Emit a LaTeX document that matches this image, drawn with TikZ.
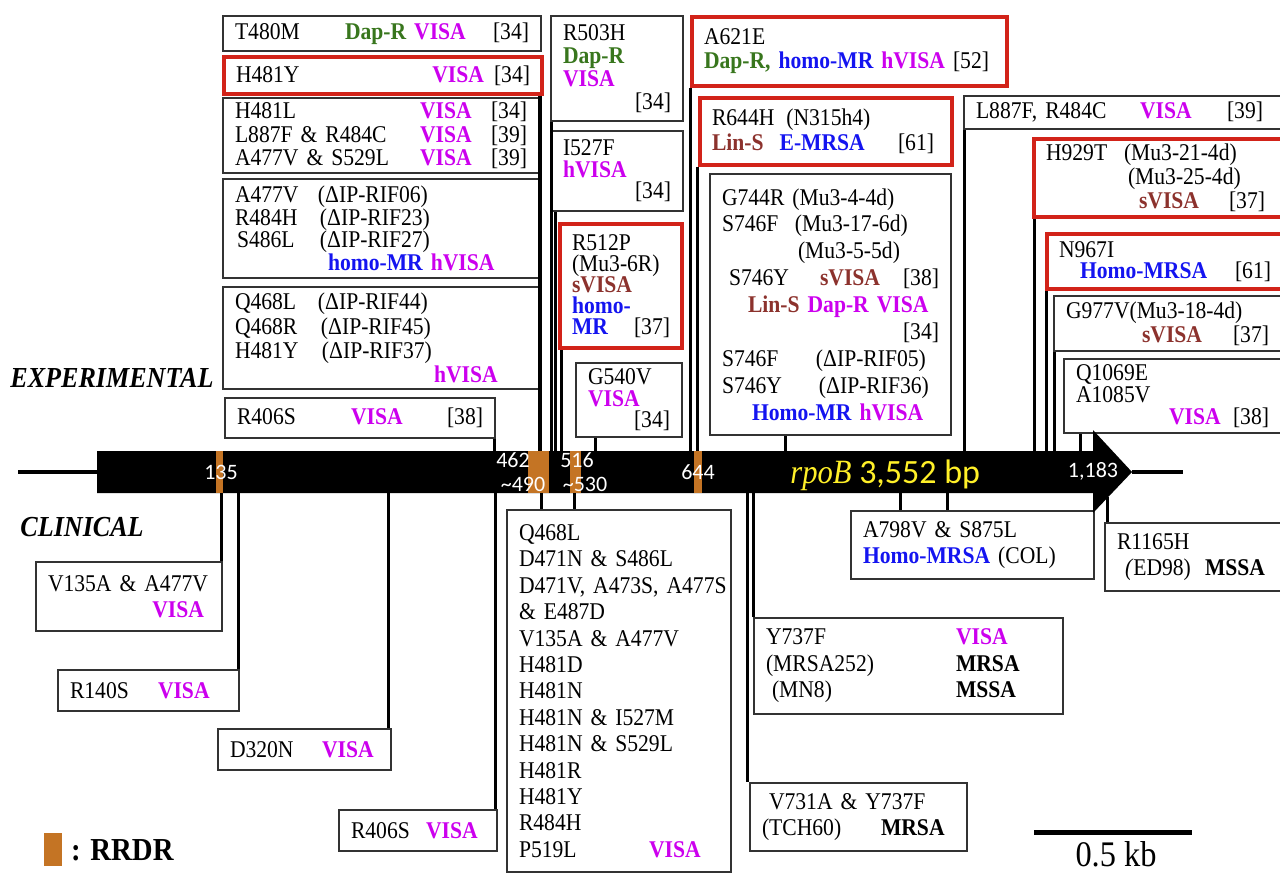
\documentclass[tikz,border=0pt]{standalone}
\usepackage{fontspec}
\setmainfont{Liberation Serif}[FakeStretch=0.9]
\newfontfamily\barfont{Carlito}
\usetikzlibrary{positioning}
\definecolor{visac}{RGB}{204,0,238}
\definecolor{daprc}{RGB}{56,118,29}
\definecolor{homoc}{RGB}{20,20,240}
\definecolor{svisac}{RGB}{140,50,45}
\definecolor{boxred}{RGB}{210,35,25}
\definecolor{rrdr}{RGB}{196,116,36}
\definecolor{geneyellow}{RGB}{255,240,40}
\newcommand{\visa}[1]{{\bfseries\color{visac}#1}}
\newcommand{\dapr}[1]{{\bfseries\color{daprc}#1}}
\newcommand{\homo}[1]{{\bfseries\color{homoc}#1}}
\newcommand{\svisa}[1]{{\bfseries\color{svisac}#1}}
\newcommand{\bk}[1]{{\bfseries #1}}
\begin{document}
\begin{tikzpicture}[x=0.5pt, y=-0.5pt,
  font=\fontsize{12}{13}\selectfont,
  box/.style={draw=black!80, line width=1pt, anchor=north west, inner xsep=6pt,
              inner ysep=0pt, align=left},
  hit/.style={box, draw=boxred, line width=2pt},
  lead/.style={font=\fontsize{12}{#1}\selectfont},
  link/.style={line width=1.5pt},
  num/.style={text=white, inner sep=0pt, font=\barfont\fontsize{11}{11}\selectfont},
  tag/.style={inner sep=0pt, font=\fontsize{14.5}{14.5}\selectfont\bfseries\itshape},
]
\useasboundingbox (0,0) rectangle (1280,873);

% experimental
\node[box, text width=147pt, minimum height=17.5pt] (t480m) at (222,15)
  {\makebox[55pt][l]{T480M}\dapr{Dap-R} \visa{VISA}\hfill[34]};
\node[hit, text width=147pt, minimum height=18.5pt] (h481y) at (222,55)
  {H481Y\hfill\visa{VISA}\hspace{5pt}[34]};
\node[box, lead=11.75, text width=146pt, minimum height=37.5pt] (h481l) at (222,97)
  {\makebox[92.5pt][l]{H481L}\visa{VISA}\hfill[34]\\
   \makebox[92.5pt][l]{L887F \& R484C}\visa{VISA}\hfill[39]\\
   \makebox[92.5pt][l]{A477V \& S529L}\visa{VISA}\hfill[39]};
\node[box, lead=11.35, text width=146pt, minimum height=49.5pt] (rif06) at (222,178)
  {\makebox[41.5pt][l]{A477V}(ΔIP-RIF06)\\
   \makebox[42.5pt][l]{R484H}(ΔIP-RIF23)\\
   \hspace*{1pt}\makebox[41.5pt][l]{S486L}(ΔIP-RIF27)\\
   \hspace*{46.5pt}\homo{homo-MR} \visa{hVISA}};
\node[box, lead=12.15, text width=146pt, minimum height=51pt] (rif44) at (222,286)
  {\makebox[41.5pt][l]{Q468L}(ΔIP-RIF44)\\
   \makebox[43pt][l]{Q468R}(ΔIP-RIF45)\\
   \makebox[43.5pt][l]{H481Y}(ΔIP-RIF37)\\
   \hspace*{99.5pt}\visa{hVISA}};
\node[box, text width=123pt, minimum height=20pt] (r406s) at (224,397)
  {\makebox[57pt][l]{R406S}\visa{VISA}\hfill[38]};

\node[box, lead=11.6, text width=54pt, minimum height=52.5pt] (r503h) at (550,15)
  {R503H\\ \dapr{Dap-R}\\ \visa{VISA}\\ \hspace*{\fill}[34]};
\node[box, lead=10.8, text width=54pt, minimum height=40pt] (i527f) at (550,130)
  {I527F\\ \visa{hVISA}\\ \hspace*{\fill}[34]};
\node[hit, lead=10.5, text width=49pt, minimum height=62pt] (r512p) at (558,222)
  {R512P\\ (Mu3-6R)\\ \svisa{sVISA}\\ \homo{homo-}\\ \homo{MR}\hfill[37]};
\node[box, lead=10.8, text width=41pt, minimum height=37pt] (g540v) at (575,362)
  {G540V\\ \visa{VISA}\\ \hspace*{\fill}[34]};

\node[hit, lead=12, text width=145.5pt, minimum height=34.5pt] (a621e) at (690,15)
  {A621E\\ \mbox{\dapr{Dap-R,} \homo{homo-MR} \visa{hVISA}\hspace{4pt}[52]}};
\node[hit, lead=12.5, text width=114pt, minimum height=33.5pt] (r644h) at (698,96)
  {R644H\hspace{6pt}(N315h4)\\
   \svisa{Lin-S}\hspace{8pt}\homo{E-MRSA}\hfill[61]\kern3pt};
\node[box, lead=13.45, text width=108.5pt, minimum height=130.5pt] (g744r) at (709,173)
  {G744R (Mu3-4-4d)\\
   \makebox[36.5pt][l]{S746F}(Mu3-17-6d)\\
   \hspace*{38pt}(Mu3-5-5d)\\
   \hspace*{3.5pt}\makebox[45.5pt][l]{S746Y}\svisa{sVISA}\hfill[38]\\
   \hspace*{13pt}\svisa{Lin-S} \visa{Dap-R VISA}\\
   \hspace*{\fill}[34]\\
   \makebox[47pt][l]{S746F}(ΔIP-RIF05)\\
   \makebox[48.5pt][l]{S746Y}(ΔIP-RIF36)\\
   \hspace*{15pt}\homo{Homo-MR} \visa{hVISA}};

\node[box, text width=156.5pt, minimum height=16.5pt] (l887f) at (963,95)
  {\makebox[82pt][l]{L887F, R484C}\makebox[43.5pt][l]{\visa{VISA}}[39]};
\node[hit, lead=9.5, text width=122pt, minimum height=39pt] (h929t) at (1032,137)
  {\makebox[39pt][l]{H929T}(Mu3-21-4d)\\
   \hspace*{41pt}(Mu3-25-4d)\\
   \hspace*{46.5pt}\makebox[45pt][l]{\svisa{sVISA}}[37]};
\node[hit, lead=10.2, text width=115.5pt, minimum height=27.5pt] (n967i) at (1045,232)
  {N967I\\ \hspace*{10.5pt}\makebox[77.5pt][l]{\homo{Homo-MRSA}}[61]};
\node[box, lead=10, text width=111.5pt, minimum height=27.5pt] (g977v) at (1053,295)
  {G977V(Mu3-18-4d)\\ \hspace*{38pt}\makebox[45.5pt][l]{\svisa{sVISA}}[37]};
\node[box, lead=8.5, text width=106.5pt, minimum height=37pt] (q1069e) at (1063,358)
  {Q1069E\\ A1085V\\[1.5pt] \hspace*{46.5pt}\makebox[32pt][l]{\visa{VISA}}[38]};

% clinical
\node[box, lead=13, text width=81pt, minimum height=34.5pt] (v135a) at (35,561)
  {\mbox{V135A \& A477V}\\ \hspace*{\fill}\visa{VISA}\kern3pt};
\node[box, text width=78.5pt, minimum height=20.5pt] (r140s) at (57,669)
  {\makebox[44pt][l]{R140S}\visa{VISA}};
\node[box, text width=74.5pt, minimum height=20.5pt] (d320n) at (217,728)
  {\makebox[46pt][l]{D320N}\visa{VISA}};
\node[box, text width=67pt, minimum height=20.5pt] (r406sc) at (338,809)
  {\makebox[37.5pt][l]{R406S}\visa{VISA}};
\node[box, lead=13.2, text width=100pt, minimum height=181pt] (q468l) at (506,509)
  {Q468L\\ D471N \& S486L\\ \mbox{D471V, A473S, A477S}\\ \& E487D\\ V135A \& A477V\\
   H481D\\ H481N\\ H481N \& I527M\\ H481N \& S529L\\ H481R\\ H481Y\\ R484H\\
   \makebox[65pt][l]{P519L}\visa{VISA}};
\node[box, lead=13.25, text width=142.5pt, minimum height=48pt] (y737f) at (753,617)
  {\makebox[95pt][l]{Y737F}\visa{VISA}\\
   \makebox[95pt][l]{(MRSA252)}\bk{MRSA}\\
   \makebox[95pt][l]{\hspace*{3pt}(MN8)}\bk{MSSA}};
\node[box, lead=13, text width=96.5pt, minimum height=34pt] (v731a) at (749,782)
  {\hspace*{3.5pt}V731A \& Y737F\\ \makebox[59.5pt][l]{(TCH60)}\bk{MRSA}};
\node[box, lead=13, text width=109.5pt, minimum height=34pt] (a798v) at (850,510)
  {A798V \& S875L\\ \homo{Homo-MRSA} (COL)};
\node[box, lead=13, text width=86pt, minimum height=34pt] (r1165h) at (1104,522)
  {R1165H\\ \hspace*{4pt}\makebox[40pt][l]{\textit{(}ED98)}\bk{MSSA}};

% gene
\draw[line width=2pt] (18,472) -- (97,472);
\draw[line width=2pt] (1132,472) -- (1183,472);
\fill (97,451) -- (1093,451) -- (1093,430) -- (1132,472) -- (1093,513)
  -- (1093,493) -- (97,493) -- cycle;
\foreach \a/\b in {216/223,528/549,570/581,694/702}
  \fill[rrdr] (\a,451) rectangle (\b,493);

\coordinate (e406) at (494,451);
\coordinate (e481) at (540,451);
\coordinate (e503) at (551,451);
\coordinate (e527) at (555,451);
\coordinate (e512) at (561,451);
\coordinate (e540) at (595,451);
\coordinate (e621) at (690,451);
\coordinate (e644) at (697,451);
\coordinate (e744) at (785,451);
\coordinate (e887) at (964,451);
\coordinate (e929) at (1034,451);
\coordinate (e967) at (1046,451);
\coordinate (e977) at (1054,451);
\coordinate (e1069) at (1080,451);

\draw[link] (e406 |- r406s.south) -- (e406);
\draw[link, line width=2pt] (e481 |- h481y.south) -- (e481);
\draw[link] (e503 |- r503h.south) -- (e503);
\draw[link] (e527 |- i527f.south) -- (e527);
\draw[link] (e512 |- r512p.south) -- (e512);
\draw[link] (e540 |- g540v.south) -- (e540);
\draw[link] (e621 |- a621e.south) -- (e621);
\draw[link] (e644 |- r644h.south) -- (e644);
\draw[link] (e744 |- g744r.south) -- (e744);
\draw[link] (e887 |- l887f.south) -- (e887);
\draw[link] (e929 |- h929t.south) -- (e929);
\draw[link] (e967 |- n967i.south) -- (e967);
\draw[link] (e977 |- g977v.south) -- (e977);
\draw[link] (e1069 |- q1069e.south) -- (e1069);

\coordinate (c135) at (221,493);
\coordinate (c140) at (238,493);
\coordinate (c320) at (388,493);
\coordinate (c406) at (495,493);
\coordinate (c468) at (541,493);
\coordinate (c519) at (574,493);
\coordinate (c731) at (747,493);
\coordinate (c737) at (753,493);
\coordinate (c798) at (900,493);
\coordinate (c875) at (947,493);
\coordinate (c1165) at (1107,497);

\draw[link] (c135) -- (c135 |- v135a.north);
\draw[link] (c140) -- (c140 |- r140s.north);
\draw[link] (c320) -- (c320 |- d320n.north);
\draw[link] (c406) -- (c406 |- r406sc.north);
\draw[link] (c468) -- (c468 |- q468l.north);
\draw[link] (c519) -- (c519 |- q468l.north);
\draw[link] (c731) -- (c731 |- v731a.north);
\draw[link] (c737) -- (c737 |- y737f.north);
\draw[link] (c798) -- (c798 |- a798v.north);
\draw[link] (c875) -- (c875 |- a798v.north);
\draw[link] (c1165) -- (c1165 |- r1165h.north);

\node[num] (n135) at (221,472) {135};
\node[num] (n462) at (513,460) {462};
\node[num] (n490) at (523,484) {\textasciitilde490};
\node[num] (n516) at (577,460) {516};
\node[num] (n530) at (585,484) {\textasciitilde530};
\node[num] (n644) at (698,472) {644};
\node[num] (n1183) at (1093,471) {1,183};
\node[anchor=base west, inner sep=0pt, text=geneyellow, font=\fontsize{17}{17}\selectfont]
  (gname) at (790,483) {\textit{rpoB} {\barfont 3,552 bp}};

\node[tag, anchor=west] (exp) at (10,378) {EXPERIMENTAL};
\node[tag, anchor=west] (clin) at (20,527) {CLINICAL};

\node[fill=rrdr, anchor=north west, inner sep=0pt, minimum width=9pt,
  minimum height=16.5pt] (key) at (44,833) {};
\node[inner sep=0pt, font=\fontsize{16}{16}\selectfont\bfseries, right=4pt of key]
  (keytext) {: RRDR};

\coordinate (sb0) at (1034,832);
\coordinate (sb1) at (1192,832);
\draw[line width=2.5pt] (sb0) -- (sb1);
\node[anchor=base, inner sep=0pt, font=\fontsize{18}{18}\selectfont] (kb) at (1116,866) {0.5 kb};
\end{tikzpicture}
\end{document}
